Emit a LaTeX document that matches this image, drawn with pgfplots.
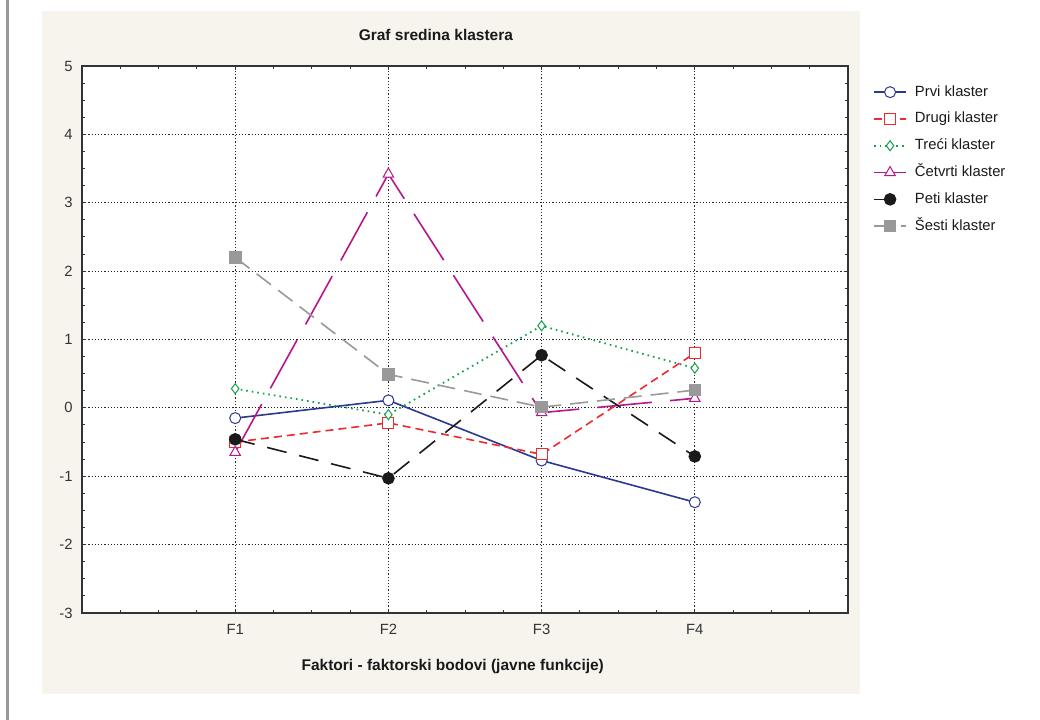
\documentclass[border=0pt]{standalone}
\usepackage{fontspec}
\setmainfont{Liberation Sans}
\usepackage{pgfplots}
\pgfplotsset{compat=1.18}

\definecolor{prvi}{HTML}{2B3990}
\definecolor{drugi}{HTML}{EE2A2E}
\definecolor{treci}{HTML}{12A04B}
\definecolor{cetvrti}{HTML}{B5178D}
\definecolor{peti}{HTML}{1A1A1A}
\definecolor{sesti}{HTML}{999999}
\definecolor{panel}{HTML}{F7F4EE}
\definecolor{txt}{HTML}{333333}

\begin{document}
\begin{tikzpicture}[x=1bp,y=1bp]
\fill[white] (0,0) rectangle (1040,720);
\fill[panel] (42,26) rectangle (860,709);
\fill[sesti] (5.5,0) rectangle (8.5,720);
\begin{axis}[
  at={(82bp,107bp)}, anchor=south west,
  scale only axis, width=766bp, height=547bp,
  axis background/.style={fill=white},
  axis line style={line width=1.5bp, txt},
  font=\fontsize{14.8bp}{17bp}\selectfont,
  /pgf/number format/assume math mode=true,
  xmin=0, xmax=5, ymin=-3, ymax=5,
  xtick={1,2,3,4}, xticklabels={F1,F2,F3,F4},
  ytick={-3,-2,-1,0,1,2,3,4,5},
  minor xtick={0.25,0.5,0.75,1.25,1.5,1.75,2.25,2.5,2.75,3.25,3.5,3.75,4.25,4.5,4.75},
  minor y tick num=3,
  tick align=inside, tick pos=both,
  major tick length=4bp, minor tick length=3bp,
  tick style={txt, line width=1bp},
  xmajorgrids, ymajorgrids,
  grid style={black!85, line width=0.9bp, dash pattern=on 1.2bp off 2bp},
  ticklabel style={txt},
  yticklabel style={xshift=-6bp},
  xticklabel style={yshift=-8bp},
  title={\bfseries Graf sredina klastera},
  title style={at={(axis description cs:0.462,1)}, anchor=center, yshift=25bp, font=\fontsize{15.5bp}{18bp}\selectfont, text=peti},
  xlabel={\bfseries Faktori - faktorski bodovi (javne funkcije)},
  xlabel style={at={(axis description cs:0.484,0)}, anchor=center, yshift=-53bp, font=\fontsize{15.5bp}{18bp}\selectfont, text=peti},
  legend style={at={(axis description cs:1.0326,0.969)}, anchor=north west, draw=none, fill=none, inner sep=0pt,
    row sep=8.8bp, column sep=6bp, nodes={inner sep=2bp, text height=11bp, text depth=3bp, text=peti}},
  legend cell align=left,
  legend image code/.code={\draw[mark repeat=2,mark phase=2,#1] plot coordinates {(0bp,0bp) (16bp,0bp) (32bp,0bp)};},
]
\addplot[prvi, line width=1.6bp, mark=*, mark size=5.5bp, mark options={fill=white, solid, line width=1bp}]
  coordinates {(1,-0.15) (2,0.11) (3,-0.77) (4,-1.38)};
\addlegendentry{Prvi klaster}
\addplot[drugi, line width=1.6bp, dash pattern=on 8bp off 5bp, mark=square*, mark size=5.5bp, mark options={fill=white, solid, line width=1bp}]
  coordinates {(1,-0.50) (2,-0.22) (3,-0.68) (4,0.80)};
\addlegendentry{Drugi klaster}
\addplot[treci, line width=1.8bp, dash pattern=on 1.6bp off 4bp, mark=diamond*, mark size=5bp, mark options={fill=white, solid, line width=1bp}]
  coordinates {(1,0.28) (2,-0.10) (3,1.20) (4,0.58)};
\addlegendentry{Treći klaster}
\addplot[cetvrti, line width=1.6bp, dash pattern=on 55bp off 18bp, mark=triangle*, mark size=6bp, mark options={fill=white, solid, line width=1bp}]
  coordinates {(1,-0.65) (2,3.42) (3,-0.07) (4,0.14)};
\addlegendentry{Četvrti klaster}
\addplot[peti, line width=1.6bp, dash pattern=on 20bp off 13bp, mark=*, mark size=5.5bp, mark options={fill=peti, solid}]
  coordinates {(1,-0.46) (2,-1.03) (3,0.77) (4,-0.71)};
\addlegendentry{Peti klaster}
\addplot[sesti, line width=1.6bp, dash pattern=on 18bp off 9bp, mark=square*, mark size=5.5bp, mark options={fill=sesti, solid}]
  coordinates {(1,2.20) (2,0.49) (3,0.01) (4,0.26)};
\addlegendentry{Šesti klaster}
\end{axis}
\pgfresetboundingbox
\useasboundingbox (0,0) rectangle (1040,720);
\end{tikzpicture}
\end{document}
